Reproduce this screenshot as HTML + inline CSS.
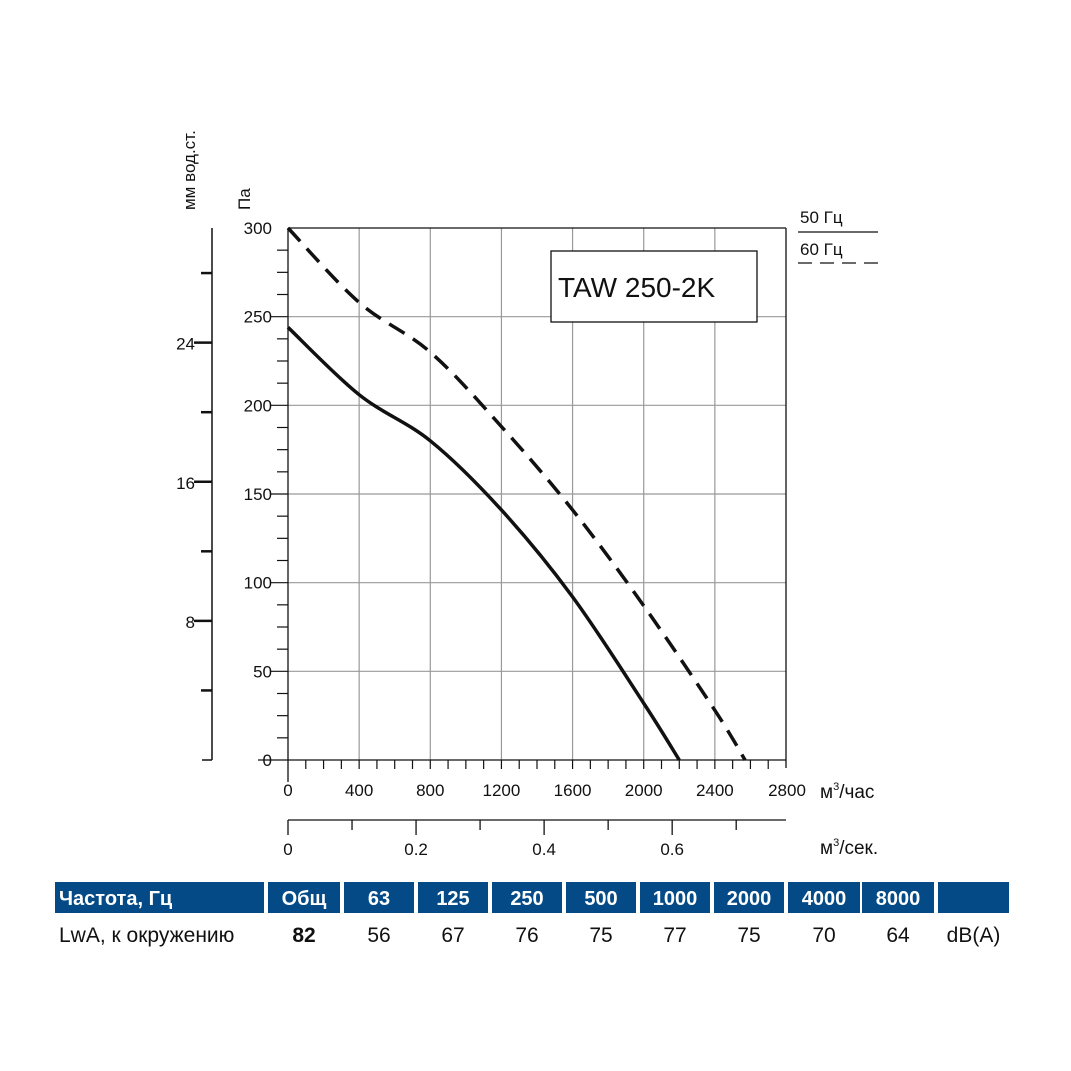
<!DOCTYPE html>
<html><head><meta charset="utf-8">
<style>
body{margin:0;background:#fff;}
svg{display:block;font-family:"Liberation Sans","DejaVu Sans",sans-serif;}
</style></head>
<body>
<svg id="chart" width="1071" height="1071" viewBox="0 0 1071 1071" xmlns="http://www.w3.org/2000/svg">
<rect width="1071" height="1071" fill="#fff"/>
<g id="grid"></g>
<g id="axes"></g>
<g id="series"></g>
<text x="195" y="210" transform="rotate(-90 195 210)" font-size="17" fill="#111">мм вод.ст.</text>
<text x="250" y="210" transform="rotate(-90 250 210)" font-size="17" fill="#111">Па</text>
<text x="820" y="798" font-size="19" fill="#111">м<tspan font-size="11" dy="-8">3</tspan><tspan dy="8">/час</tspan></text>
<text x="820" y="854" font-size="19" fill="#111">м<tspan font-size="11" dy="-8">3</tspan><tspan dy="8">/сек.</tspan></text>
<rect x="551" y="251" width="206" height="71" fill="#fff" stroke="#111" stroke-width="1.3"/>
<text x="558" y="297" font-size="28" fill="#111">TAW 250-2K</text>
<g>
<text x="800" y="223" font-size="17" fill="#111">50 Гц</text>
<line x1="798" y1="232" x2="878" y2="232" stroke="#111" stroke-width="1.3"/>
<text x="800" y="255" font-size="17" fill="#111">60 Гц</text>
<line x1="798" y1="263" x2="878" y2="263" stroke="#111" stroke-width="1.3" stroke-dasharray="14,8"/>
</g>
<g id="table"></g>
</svg>
<script>
const xTicks=[0,400,800,1200,1600,2000,2400,2800];
const yTicks=[0,50,100,150,200,250,300];
const mmTicks=[8,16,24];
const secTicks=[0,0.2,0.4,0.6];
const flow50=[0,400,800,1200,1600,2000,2200];
const press50=[244,206,180,141,92,32,0];
const flow60=[0,400,800,1200,1600,2000,2400,2570];
const press60=[300,258,230,188,141,87,28,0];
const headers=["Частота, Гц","Общ","63","125","250","500","1000","2000","4000","8000",""];
const rowVals=["LwA, к окружению","82","56","67","76","75","77","75","70","64","dB(A)"];

const NS="http://www.w3.org/2000/svg";
const X0=288,X1=786,Y0=760,Y1=228;
const sx=v=>X0+(v/2800)*(X1-X0);
const sy=v=>Y0-(v/300)*(Y0-Y1);
function mk(parent,tag,attrs,text){const e=document.createElementNS(NS,tag);for(const k in attrs)e.setAttribute(k,attrs[k]);if(text!==undefined)e.textContent=text;parent.appendChild(e);return e;}
const grid=document.getElementById('grid'),axes=document.getElementById('axes'),series=document.getElementById('series'),table=document.getElementById('table');

xTicks.forEach(v=>{if(v>0&&v<2800){const l=mk(grid,'line',{x1:sx(v),y1:Y1,x2:sx(v),y2:Y0,stroke:'#999','stroke-width':1.2});

}});
yTicks.forEach(v=>{if(v>0&&v<300){const l=mk(grid,'line',{x1:X0,y1:sy(v),x2:X1,y2:sy(v),stroke:'#999','stroke-width':1.2});

}});
// frame
mk(axes,'line',{x1:X0,y1:Y1,x2:X1,y2:Y1,stroke:'#111','stroke-width':1.3});
mk(axes,'line',{x1:X1,y1:Y1,x2:X1,y2:Y0+8,stroke:'#111','stroke-width':1.3});
mk(axes,'line',{x1:X0,y1:Y1,x2:X0,y2:Y0+22,stroke:'#111','stroke-width':1.3});
mk(axes,'line',{x1:X0-30,y1:Y0,x2:X1,y2:Y0,stroke:'#111','stroke-width':1.3});
for(let v=100;v<2800;v+=100){mk(axes,'line',{x1:sx(v),y1:Y0,x2:sx(v),y2:Y0+9,stroke:'#111','stroke-width':1.2});}
for(let v=12.5;v<300;v+=12.5){if(v%50)mk(axes,'line',{x1:X0-11,y1:sy(v),x2:X0,y2:sy(v),stroke:'#111','stroke-width':1.2});}
yTicks.forEach(v=>{if(v<300&&v>0)mk(axes,'line',{x1:X0-18,y1:sy(v),x2:X0,y2:sy(v),stroke:'#111','stroke-width':1.2});
const t=mk(axes,'text',{x:X0-16,y:sy(v)+6,'font-size':17,'text-anchor':'end',fill:'#111'},String(v));

});
xTicks.forEach(v=>{const t=mk(axes,'text',{x:sx(v)+(v===2800?1:0),y:796,'font-size':17,'text-anchor':'middle',fill:'#111'},String(v));

});
// mm axis
const MX=212;const mmY=mm=>sy(mm*9.80665);
mk(axes,'line',{x1:MX,y1:Y1,x2:MX,y2:Y0,stroke:'#111','stroke-width':1.5});
mk(axes,'line',{x1:MX-10,y1:Y0,x2:MX,y2:Y0,stroke:'#111','stroke-width':1.5});
for(let m=4;m<=28;m+=4){const lab=mmTicks.includes(m);mk(axes,'line',{x1:lab?MX-18:MX-11,y1:mmY(m),x2:MX,y2:mmY(m),stroke:'#111','stroke-width':2.5});}
mmTicks.forEach(m=>{const t=mk(axes,'text',{x:MX-17,y:mmY(m)+7,'font-size':17,'text-anchor':'end',fill:'#111'},String(m));

});
// sec axis
const SY=820;const ss=v=>sx(v*3600);
mk(axes,'line',{x1:X0,y1:SY,x2:X1,y2:SY,stroke:'#111','stroke-width':1.3});
for(let i=0;i<=7;i++){const v=i/10;mk(axes,'line',{x1:ss(v),y1:SY,x2:ss(v),y2:SY+(i%2?10:15),stroke:'#111','stroke-width':1.3});}
secTicks.forEach(v=>{const t=mk(axes,'text',{x:ss(v),y:855,'font-size':17,'text-anchor':'middle',fill:'#111'},String(v));

});
// curves
function curve(xs,ys){const p=xs.map((x,i)=>[sx(x),sy(ys[i])]);let d='M'+p[0][0]+','+p[0][1];
for(let i=0;i<p.length-1;i++){const p0=p[i-1]||p[i],p1=p[i],p2=p[i+1],p3=p[i+2]||p2;
d+=' C'+(p1[0]+(p2[0]-p0[0])/6)+','+(p1[1]+(p2[1]-p0[1])/6)+' '+(p2[0]-(p3[0]-p1[0])/6)+','+(p2[1]-(p3[1]-p1[1])/6)+' '+p2[0]+','+p2[1];}return d;}
const c1=mk(series,'path',{d:curve(flow50,press50),fill:'none',stroke:'#111','stroke-width':3.5});


const c2=mk(series,'path',{d:curve(flow60,press60),fill:'none',stroke:'#111','stroke-width':3.5,'stroke-dasharray':'18,10'});


// table
const cx=[[55,264],[268,340],[344,414],[418,488],[492,562],[566,636],[640,710],[714,784],[788,860],[862,934],[938,1009]];
headers.forEach((h,i)=>{const[a,b]=cx[i];const r=mk(table,'rect',{x:a,y:882,width:b-a,height:31,fill:'#044a87'});


const t=mk(table,'text',{x:i===0?a+4:(a+b)/2,y:905,'font-size':20,'font-weight':'bold',fill:'#fff','text-anchor':i===0?'start':'middle'},h);

});
rowVals.forEach((v,i)=>{const[a,b]=cx[i];const t=mk(table,'text',{x:i===0?a+4:(a+b)/2,y:942,'font-size':21,'font-weight':i===1?'bold':'normal',fill:'#111','text-anchor':i===0?'start':'middle'},v);

});
</script>
</body></html>
